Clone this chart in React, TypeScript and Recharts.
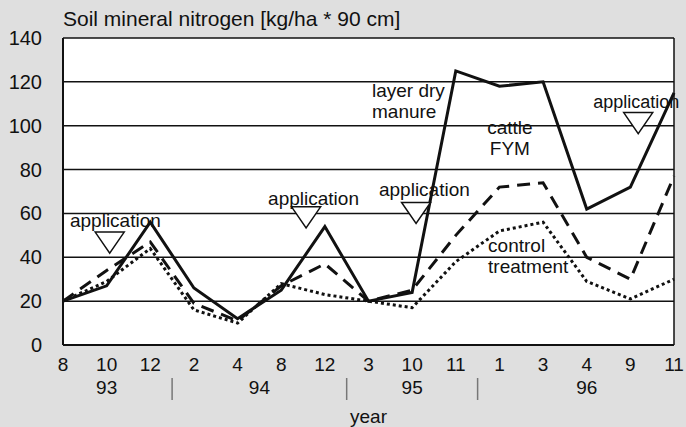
import {
  LineChart,
  Line,
  XAxis,
  YAxis,
  CartesianGrid,
  ReferenceDot,
  ReferenceLine,
  Label,
} from "recharts"

const months = ["8", "10", "12", "2", "4", "8", "12", "3", "10", "11", "1", "3", "4", "9", "11"]
const layerDryManure = [20, 27, 56, 26, 12, 25, 54, 20, 24, 125, 118, 120, 62, 72, 115]
const cattleFym = [20, 34, 47, 19, 11, 27, 37, 20, 25, 50, 72, 74, 40, 30, 77]
const controlTreatment = [20, 29, 44, 16, 10, 28, 23, 20, 17, 38, 52, 56, 29, 21, 30]

const yTicks = [0, 20, 40, 60, 80, 100, 120, 140]

// year row sits on a 0..14 index axis under the months
const yearTicks = [1, 4.5, 8, 12]
const yearLabels = ["93", "94", "95", "96"]
const yearBreaks = [2.5, 6.5, 9.5]

// "application" markers, in index / kg-per-ha units
const applicationX = [1.07, 5.57, 8.09, 13.18]
const applicationY = [51.5, 63, 65, 106]
const applicationTextX = [0.16, 4.7, 7.24, 12.15]
const applicationTextY = [54, 64, 68, 108]

const seriesNotes = [
  { lines: ["layer dry", "manure"], x: 7.08, y: 113, anchor: "start" },
  { lines: ["cattle", "FYM"], x: 10.24, y: 96, anchor: "middle" },
  { lines: ["control", "treatment"], x: 9.74, y: 42.5, anchor: "start" },
]

const data = months.map((m, i) => ({
  month: m,
  layer: layerDryManure[i],
  cattle: cattleFym[i],
  control: controlTreatment[i],
}))

const FONT = "'Liberation Sans', Arial, sans-serif"

function MonthTick(p: any) {
  return (
    <text x={p.x} y={p.y + 18} textAnchor="middle" fontSize={19} fontFamily={FONT} fill="#111">
      {p.payload.value}
    </text>
  )
}

function YearTick(p: any) {
  const v = p.payload.value
  const idx = yearTicks.indexOf(v)
  if (idx < 0) {
    return <line x1={p.x} x2={p.x} y1={p.y - 5} y2={p.y + 17} stroke="#777" strokeWidth={1.5} />
  }
  return (
    <text x={p.x} y={p.y + 11} textAnchor="middle" fontSize={19} fontFamily={FONT} fill="#111">
      {yearLabels[idx]}
    </text>
  )
}

function YTick(p: any) {
  return (
    <text x={p.x + 5} y={p.y + 7} textAnchor="end" fontSize={20} fontFamily={FONT} fill="#111">
      {p.payload.value}
    </text>
  )
}

function Triangle(p: any) {
  const w = 29
  const h = 21
  return (
    <path
      d={`M${p.cx - w / 2},${p.cy} L${p.cx + w / 2},${p.cy} L${p.cx},${p.cy + h} Z`}
      fill="#fff"
      stroke="#111"
      strokeWidth={1.5}
    />
  )
}

function noteShape(lines: string[], anchor: string, size = 19) {
  return (p: any) => (
    <text x={p.cx} y={p.cy} textAnchor={anchor} fontSize={size} fontFamily={FONT} fill="#111">
      {lines.map((l, i) => (
        <tspan key={i} x={p.cx} dy={i === 0 ? 0 : 21}>
          {l}
        </tspan>
      ))}
    </text>
  )
}

export default function App() {
  return (
    <div style={{ position: "relative", width: 686, height: 427, background: "#dfdfdf", fontFamily: FONT }}>
      <style>{`body{margin:0}`}</style>
      <div style={{ position: "absolute", left: 63, top: 7, fontSize: 21, color: "#111", whiteSpace: "nowrap" }}>
        Soil mineral nitrogen [kg/ha * 90 cm]
      </div>
      <LineChart width={686} height={427} data={data} margin={{ top: 38, right: 12, bottom: 24, left: 0 }}>
        <CartesianGrid vertical={false} stroke="#111" strokeWidth={1.5} fill="#fff" />
        <XAxis
          dataKey="month"
          height={30}
          interval={0}
          tick={<MonthTick />}
          tickLine={false}
          axisLine={{ stroke: "#111", strokeWidth: 2 }}
        />
        <XAxis
          xAxisId="year"
          type="number"
          domain={[0, 14]}
          allowDataOverflow
          ticks={[...yearTicks, ...yearBreaks]}
          interval={0}
          height={28}
          tick={<YearTick />}
          tickLine={false}
          axisLine={false}
        >
          <Label value="year" position="bottom" offset={7} fontSize={19} fontFamily={FONT} fill="#111" />
        </XAxis>
        <YAxis
          domain={[0, 140]}
          ticks={yTicks}
          interval={0}
          width={63}
          tick={<YTick />}
          tickLine={false}
          tickMargin={20}
          axisLine={{ stroke: "#111", strokeWidth: 2 }}
        />
        <ReferenceLine xAxisId="year" x={14} stroke="#111" strokeWidth={1.5} />
        <Line
          dataKey="control"
          stroke="#111"
          strokeWidth={3}
          strokeDasharray="3 3"
          dot={false}
          isAnimationActive={false}
        />
        <Line
          dataKey="cattle"
          stroke="#111"
          strokeWidth={3}
          strokeDasharray="13 8"
          dot={false}
          isAnimationActive={false}
        />
        <Line dataKey="layer" stroke="#111" strokeWidth={3} dot={false} isAnimationActive={false} />
        {applicationX.map((x, i) => (
          <ReferenceDot key={`t${i}`} xAxisId="year" x={x} y={applicationY[i]} shape={<Triangle />} />
        ))}
        {applicationTextX.map((x, i) => (
          <ReferenceDot
            key={`a${i}`}
            xAxisId="year"
            x={x}
            y={applicationTextY[i]}
            shape={noteShape(["application"], "start", i === 3 ? 18 : 19)}
          />
        ))}
        {seriesNotes.map((n, i) => (
          <ReferenceDot key={`n${i}`} xAxisId="year" x={n.x} y={n.y} shape={noteShape(n.lines, n.anchor)} />
        ))}
      </LineChart>
    </div>
  )
}
